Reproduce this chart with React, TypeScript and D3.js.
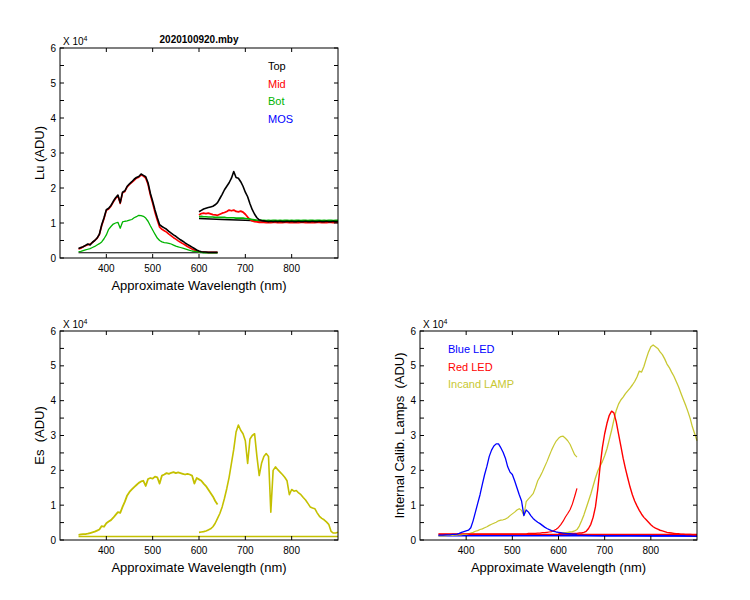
import React from "react";
import * as d3 from "d3";

// ---------- wavelength grids ----------
const WL_VIS = d3.range(340, 641, 5); // 61 points, 340..640
const WL_NIR = d3.range(600, 901, 5); // 61 points, 600..900

const X_TICKS = [400, 500, 600, 700, 800];
const Y_TICKS = [0, 1, 2, 3, 4, 5, 6];
const Y_MINOR = [0.5, 1.5, 2.5, 3.5, 4.5, 5.5];

// ---------- Lu panel (x 10^4 ADU) ----------
const luTopVis = [
  0.27, 0.30, 0.32, 0.36, 0.40, 0.37, 0.45, 0.50, 0.57, 0.68,
  0.95, 1.15, 1.38, 1.42, 1.50, 1.62, 1.72, 1.80, 1.58, 1.88,
  1.92, 2.05, 2.12, 2.18, 2.25, 2.30, 2.33, 2.40, 2.36, 2.32,
  2.15, 1.85, 1.62, 1.37, 1.15, 0.95, 0.90, 0.86, 0.82, 0.76,
  0.71, 0.66, 0.62, 0.57, 0.52, 0.48, 0.43, 0.39, 0.35, 0.31,
  0.27, 0.23, 0.20, 0.18, 0.17, 0.17, 0.16, 0.16, 0.16, 0.16,
  0.16,
];
const luMidVis = [
  0.26, 0.28, 0.32, 0.35, 0.38, 0.40, 0.44, 0.50, 0.56, 0.67,
  0.92, 1.12, 1.36, 1.40, 1.48, 1.60, 1.70, 1.78, 1.56, 1.86,
  1.90, 2.03, 2.10, 2.16, 2.22, 2.28, 2.31, 2.37, 2.34, 2.28,
  2.10, 1.80, 1.56, 1.30, 1.08, 0.88, 0.82, 0.78, 0.74, 0.68,
  0.63, 0.58, 0.54, 0.49, 0.45, 0.41, 0.37, 0.33, 0.29, 0.26,
  0.23, 0.20, 0.18, 0.17, 0.17, 0.16, 0.16, 0.16, 0.16, 0.16,
  0.16,
];
const luBotVis = [
  0.18, 0.19, 0.21, 0.23, 0.25, 0.27, 0.30, 0.33, 0.37, 0.41,
  0.46, 0.55, 0.66, 0.82, 0.90, 0.97, 1.00, 1.02, 0.85, 1.03,
  1.05, 1.06, 1.08, 1.10, 1.15, 1.18, 1.22, 1.21, 1.19, 1.14,
  1.05, 0.92, 0.80, 0.68, 0.57, 0.50, 0.46, 0.44, 0.43, 0.42,
  0.40, 0.37, 0.34, 0.32, 0.30, 0.28, 0.26, 0.24, 0.22, 0.20,
  0.19, 0.18, 0.17, 0.16, 0.15, 0.15, 0.15, 0.15, 0.15, 0.15,
  0.15,
];
const luDarkVisWl = [340, 400, 500, 600, 640];
const luDarkVis = [0.15, 0.15, 0.15, 0.15, 0.15];

const luTopNir = [
  1.32, 1.36, 1.40, 1.42, 1.44, 1.46, 1.48, 1.52, 1.58, 1.70,
  1.82, 1.95, 2.05, 2.15, 2.28, 2.47, 2.30, 2.28, 2.18, 2.05,
  1.88, 1.75, 1.55, 1.38, 1.25, 1.15, 1.09, 1.07, 1.06, 1.05,
  1.04, 1.05, 1.04, 1.05, 1.04, 1.05, 1.04, 1.04, 1.05, 1.04,
  1.05, 1.04, 1.04, 1.05, 1.04, 1.04, 1.05, 1.04, 1.04, 1.05,
  1.04, 1.04, 1.05, 1.04, 1.04, 1.05, 1.04, 1.04, 1.05, 1.04,
  1.04,
];
const luMidNir = [
  1.23, 1.27, 1.28, 1.27, 1.28, 1.26, 1.24, 1.23, 1.22, 1.25,
  1.28, 1.30, 1.33, 1.37, 1.35, 1.37, 1.33, 1.32, 1.34, 1.31,
  1.25, 1.17, 1.10, 1.06, 1.04, 1.03, 1.02, 1.02, 1.02, 1.01,
  1.02, 1.01, 1.02, 1.02, 1.01, 1.02, 1.01, 1.02, 1.02, 1.01,
  1.02, 1.01, 1.02, 1.01, 1.02, 1.02, 1.01, 1.02, 1.01, 1.02,
  1.01, 1.02, 1.02, 1.01, 1.02, 1.01, 1.02, 1.02, 1.01, 1.02,
  1.02,
];
const luBotNir = [
  1.18, 1.19, 1.18, 1.18, 1.17, 1.17, 1.17, 1.16, 1.16, 1.16,
  1.16, 1.16, 1.15, 1.15, 1.15, 1.15, 1.14, 1.14, 1.14, 1.14,
  1.13, 1.12, 1.11, 1.10, 1.09, 1.08, 1.08, 1.08, 1.08, 1.07,
  1.08, 1.07, 1.08, 1.08, 1.07, 1.08, 1.07, 1.08, 1.08, 1.07,
  1.08, 1.07, 1.08, 1.08, 1.07, 1.08, 1.08, 1.07, 1.08, 1.08,
  1.07, 1.08, 1.08, 1.07, 1.08, 1.07, 1.08, 1.08, 1.07, 1.08,
  1.08,
];
const luDarkNirWl = [600, 650, 700, 750, 800, 900];
const luDarkNir = [1.13, 1.10, 1.08, 1.05, 1.04, 1.04];

// ---------- Es panel ----------
const esVis = [
  0.15, 0.16, 0.17, 0.17, 0.18, 0.20, 0.22, 0.24, 0.27, 0.30,
  0.40, 0.38, 0.48, 0.53, 0.57, 0.64, 0.72, 0.80, 0.78, 0.95,
  1.10, 1.28, 1.38, 1.45, 1.52, 1.58, 1.64, 1.68, 1.70, 1.55,
  1.75, 1.78, 1.76, 1.82, 1.80, 1.62, 1.85, 1.88, 1.92, 1.90,
  1.93, 1.95, 1.92, 1.94, 1.92, 1.90, 1.88, 1.90, 1.88, 1.85,
  1.62, 1.78, 1.74, 1.70, 1.62, 1.55, 1.45, 1.35, 1.25, 1.12,
  1.02,
];
const esNir = [
  0.22, 0.23, 0.24, 0.26, 0.29, 0.32, 0.38, 0.48, 0.62, 0.76,
  0.95, 1.20, 1.48, 1.80, 2.20, 2.60, 3.10, 3.30, 3.15, 3.05,
  2.85, 2.20, 2.90, 3.00, 3.05, 2.40, 1.85, 2.20, 2.40, 2.48,
  2.40, 0.80, 2.00, 2.10, 2.02, 1.95, 1.88, 1.80, 1.70, 1.30,
  1.45, 1.40, 1.42, 1.35, 1.30, 1.22, 1.15, 1.05, 0.95, 0.92,
  0.90, 0.78, 0.68, 0.62, 0.58, 0.52, 0.45, 0.25, 0.20, 0.20,
  0.22,
];
const esBaseWl = [340, 500, 640, 700, 900];
const esBase = [0.1, 0.1, 0.1, 0.1, 0.1];

// ---------- Internal calibration lamps panel ----------
const blueVis = [
  0.14, 0.14, 0.14, 0.15, 0.15, 0.15, 0.16, 0.16, 0.17, 0.19,
  0.22, 0.24, 0.26, 0.28, 0.35, 0.55, 0.80, 1.05, 1.30, 1.60,
  1.88, 2.12, 2.40, 2.58, 2.70, 2.76, 2.76, 2.65, 2.52, 2.35,
  2.10, 1.95, 1.88, 1.70, 1.50, 1.30, 1.12, 0.70, 0.86, 0.80,
  0.70, 0.62, 0.56, 0.51, 0.47, 0.42, 0.37, 0.33, 0.30, 0.27,
  0.25, 0.23, 0.22, 0.21, 0.20, 0.19, 0.18, 0.18, 0.17, 0.17,
  0.16,
];
const blueNirWl = [600, 650, 700, 750, 800, 850, 900];
const blueNir = [0.14, 0.13, 0.12, 0.12, 0.11, 0.11, 0.10];
const blueBaseWl = [340, 640, 900];
const blueBase = [0.12, 0.12, 0.12];

const redVis = [
  0.18, 0.18, 0.18, 0.18, 0.18, 0.18, 0.18, 0.18, 0.18, 0.18,
  0.18, 0.18, 0.18, 0.18, 0.18, 0.18, 0.18, 0.18, 0.18, 0.18,
  0.18, 0.18, 0.18, 0.18, 0.18, 0.18, 0.18, 0.18, 0.18, 0.18,
  0.18, 0.18, 0.18, 0.18, 0.18, 0.18, 0.18, 0.18, 0.18, 0.19,
  0.19, 0.19, 0.19, 0.20, 0.20, 0.21, 0.21, 0.22, 0.23, 0.24,
  0.27, 0.31, 0.36, 0.44, 0.54, 0.66, 0.76, 0.87, 1.03, 1.25,
  1.48,
];
const redNir = [
  0.18, 0.18, 0.18, 0.18, 0.18, 0.18, 0.19, 0.19, 0.19, 0.20,
  0.20, 0.22, 0.25, 0.33, 0.45, 0.65, 0.95, 1.45, 2.10, 2.65,
  3.05, 3.35, 3.58, 3.70, 3.65, 3.40, 3.05, 2.70, 2.35, 2.05,
  1.78, 1.52, 1.30, 1.12, 0.98, 0.85, 0.74, 0.65, 0.58, 0.51,
  0.44, 0.38, 0.34, 0.31, 0.28, 0.26, 0.24, 0.22, 0.21, 0.20,
  0.19, 0.18, 0.18, 0.17, 0.17, 0.16, 0.16, 0.16, 0.15, 0.15,
  0.15,
];
const redBaseWl = [340, 640, 900];
const redBase = [0.16, 0.16, 0.16];

const lampVis = [
  0.12, 0.12, 0.12, 0.12, 0.13, 0.13, 0.13, 0.14, 0.14, 0.15,
  0.15, 0.16, 0.16, 0.18, 0.20, 0.22, 0.25, 0.27, 0.30, 0.32,
  0.35, 0.38, 0.42, 0.45, 0.48, 0.51, 0.55, 0.57, 0.58, 0.60,
  0.64, 0.70, 0.75, 0.80, 0.86, 0.90, 0.85, 0.70, 1.10, 1.18,
  1.25, 1.33, 1.50, 1.70, 1.82, 1.95, 2.10, 2.25, 2.42, 2.58,
  2.72, 2.84, 2.92, 2.97, 2.98, 2.92, 2.85, 2.75, 2.60, 2.45,
  2.38,
];
const lampNir = [
  0.20, 0.20, 0.21, 0.21, 0.22, 0.23, 0.24, 0.26, 0.30, 0.40,
  0.55, 0.72, 0.92, 1.12, 1.32, 1.55, 1.78, 1.98, 2.12, 2.25,
  2.42, 2.62, 2.88, 3.15, 3.45, 3.72, 3.90, 4.02, 4.10, 4.20,
  4.28, 4.36, 4.45, 4.55, 4.68, 4.85, 4.82, 4.98, 5.20, 5.40,
  5.55, 5.60, 5.55, 5.50, 5.40, 5.32, 5.20, 5.05, 4.95, 4.82,
  4.70, 4.55, 4.40, 4.22, 4.05, 3.88, 3.70, 3.50, 3.25, 3.05,
  2.85,
];

// ---------- colours ----------
const C_BLACK = "#000000";
const C_RED = "#ff0000";
const C_GREEN = "#00b400";
const C_BLUE = "#0000ff";
const C_YELLOW = "#c4c000";
const C_LAMP = "#c8c832";

const FONT = "'Liberation Sans', Arial, Helvetica, sans-serif";

type Series = { wl: number[]; v: number[]; color: string; width: number };
type LegendItem = { text: string; color: string };

function Panel(props: {
  left: number;
  top: number;
  width: number;
  height: number;
  ylabel: string;
  series: Series[];
  legend?: LegendItem[];
  legendX?: number;
  legendY?: number;
  title?: string;
}) {
  const { left, top, width, height, ylabel, series, legend, legendX, legendY, title } = props;
  const xs = d3.scaleLinear().domain([300, 900]).range([left, left + width]);
  const ys = d3.scaleLinear().domain([0, 6]).range([top + height, top]);
  const bottom = top + height;
  const right = left + width;
  const tick = 4;
  const line = (s: Series) =>
    d3
      .line<number>()
      .x((_, i) => xs(s.wl[i]))
      .y((d) => ys(d))(s.v) || "";
  return (
    <g>
      {series.map((s, i) => (
        <path
          key={i}
          d={line(s)}
          fill="none"
          stroke={s.color}
          strokeWidth={s.width}
          strokeLinejoin="round"
        />
      ))}
      <rect x={left} y={top} width={width} height={height} fill="none" stroke="#000" strokeWidth={1} />
      {X_TICKS.map((t) => (
        <g key={"x" + t}>
          <line x1={xs(t)} x2={xs(t)} y1={bottom} y2={bottom - tick} stroke="#000" />
          <line x1={xs(t)} x2={xs(t)} y1={top} y2={top + tick} stroke="#000" />
          <text
            x={xs(t)}
            y={bottom + 14}
            textAnchor="middle"
            fontSize={10}
            fontFamily={FONT}
            fill="#000"
          >
            {t}
          </text>
        </g>
      ))}
      {Y_TICKS.concat(Y_MINOR).map((t) => (
        <g key={"y" + t}>
          <line x1={left} x2={left + tick} y1={ys(t)} y2={ys(t)} stroke="#000" />
          <line x1={right} x2={right - tick} y1={ys(t)} y2={ys(t)} stroke="#000" />
        </g>
      ))}
      {Y_TICKS.map((t) => (
        <text
          key={"yl" + t}
          x={left - 4}
          y={ys(t) + 3.5}
          textAnchor="end"
          fontSize={10}
          fontFamily={FONT}
          fill="#000"
        >
          {t}
        </text>
      ))}
      <text x={left + 3} y={top - 3} fontSize={10} fontFamily={FONT} fill="#000">
        X 10
        <tspan fontSize={7} dy={-4}>
          4
        </tspan>
      </text>
      <text
        x={(left + right) / 2}
        y={bottom + 32}
        textAnchor="middle"
        fontSize={13}
        fontFamily={FONT}
        fill="#000"
      >
        Approximate Wavelength (nm)
      </text>
      <text
        transform={`translate(${left - 16},${(top + bottom) / 2}) rotate(-90)`}
        textAnchor="middle"
        fontSize={13}
        fontFamily={FONT}
        fill="#000"
        style={{ whiteSpace: "pre" }}
      >
        {ylabel}
      </text>
      {title && (
        <text
          x={(left + right) / 2}
          y={top - 5}
          textAnchor="middle"
          fontSize={10}
          fontWeight="bold"
          fontFamily={FONT}
          fill="#000"
        >
          {title}
        </text>
      )}
      {legend &&
        legend.map((l, i) => (
          <text
            key={"lg" + i}
            x={legendX}
            y={(legendY || 0) + i * 17.5}
            fontSize={11}
            fontFamily={FONT}
            fill={l.color}
          >
            {l.text}
          </text>
        ))}
    </g>
  );
}

export default function App() {
  const luSeries: Series[] = [
    { wl: luDarkVisWl, v: luDarkVis, color: C_BLACK, width: 1.2 },
    { wl: luDarkNirWl, v: luDarkNir, color: C_BLACK, width: 1.6 },
    { wl: WL_VIS, v: luMidVis, color: C_RED, width: 1.6 },
    { wl: WL_NIR, v: luMidNir, color: C_RED, width: 1.8 },
    { wl: WL_VIS, v: luBotVis, color: C_GREEN, width: 1.3 },
    { wl: WL_NIR, v: luBotNir, color: C_GREEN, width: 1.6 },
    { wl: WL_VIS, v: luTopVis, color: C_BLACK, width: 1.6 },
    { wl: WL_NIR, v: luTopNir, color: C_BLACK, width: 1.6 },
  ];
  const esSeries: Series[] = [
    { wl: esBaseWl, v: esBase, color: C_YELLOW, width: 1.4 },
    { wl: WL_VIS, v: esVis, color: C_YELLOW, width: 1.8 },
    { wl: WL_NIR, v: esNir, color: C_YELLOW, width: 1.6 },
  ];
  const calSeries: Series[] = [
    { wl: redBaseWl, v: redBase, color: C_RED, width: 1.4 },
    { wl: blueBaseWl, v: blueBase, color: C_BLUE, width: 1.4 },
    { wl: blueNirWl, v: blueNir, color: C_BLUE, width: 1.2 },
    { wl: WL_VIS, v: lampVis, color: C_LAMP, width: 1.2 },
    { wl: WL_NIR, v: lampNir, color: C_LAMP, width: 1.3 },
    { wl: WL_VIS, v: redVis, color: C_RED, width: 1.2 },
    { wl: WL_NIR, v: redNir, color: C_RED, width: 1.4 },
    { wl: WL_VIS, v: blueVis, color: C_BLUE, width: 1.3 },
  ];
  return (
    <svg
      width={750}
      height={600}
      style={{ position: "absolute", left: 0, top: 0, background: "#fff" }}
    >
      <rect x={0} y={0} width={750} height={600} fill="#fff" />
      <Panel
        left={60}
        top={48}
        width={278}
        height={210}
        ylabel="Lu (ADU)"
        series={luSeries}
        title="2020100920.mby"
        legend={[
          { text: "Top", color: C_BLACK },
          { text: "Mid", color: C_RED },
          { text: "Bot", color: C_GREEN },
          { text: "MOS", color: C_BLUE },
        ]}
        legendX={268}
        legendY={70}
      />
      <Panel
        left={60}
        top={331}
        width={278}
        height={209}
        ylabel={"Es  (ADU)"}
        series={esSeries}
      />
      <Panel
        left={420}
        top={331}
        width={277}
        height={209}
        ylabel={"Internal Calib. Lamps  (ADU)"}
        series={calSeries}
        legend={[
          { text: "Blue LED", color: C_BLUE },
          { text: "Red LED", color: C_RED },
          { text: "Incand LAMP", color: C_LAMP },
        ]}
        legendX={448}
        legendY={353}
      />
    </svg>
  );
}
